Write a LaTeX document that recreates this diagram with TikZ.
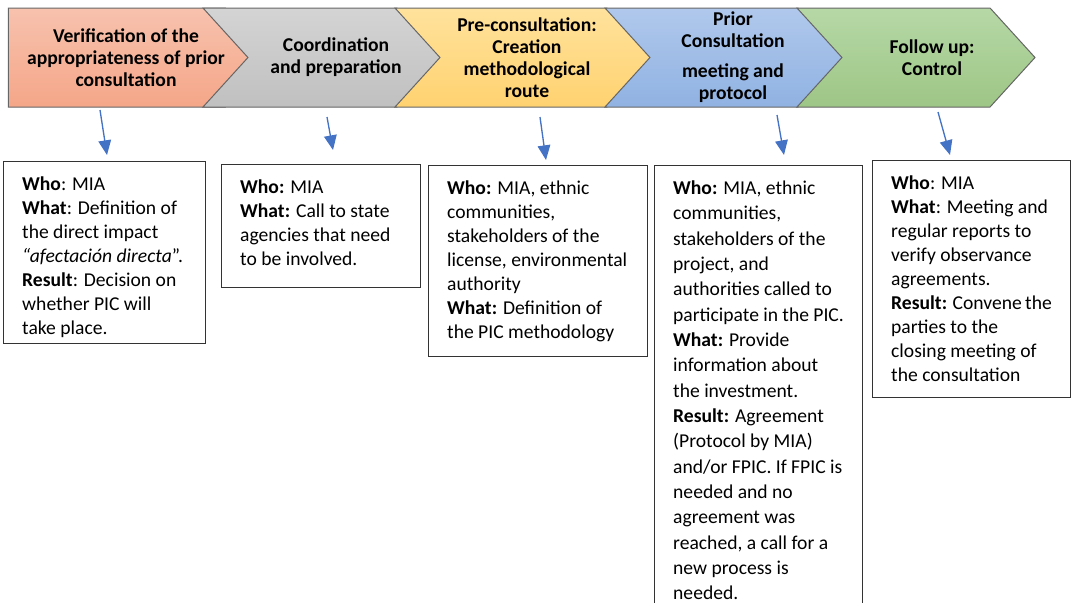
\documentclass[tikz,border=0pt]{standalone}
\usepackage{fontspec}
\setmainfont{Carlito}
\usetikzlibrary{arrows.meta,shapes.symbols}
\definecolor{SalmonTop}{RGB}{247,194,174}
\definecolor{SalmonBot}{RGB}{245,166,136}
\definecolor{GreyTop}{RGB}{212,212,212}
\definecolor{GreyBot}{RGB}{192,192,192}
\definecolor{SandTop}{RGB}{255,226,156}
\definecolor{SandBot}{RGB}{255,210,112}
\definecolor{SkyTop}{RGB}{176,200,236}
\definecolor{SkyBot}{RGB}{144,178,226}
\definecolor{LeafTop}{RGB}{182,216,166}
\definecolor{LeafBot}{RGB}{158,198,134}
\definecolor{ArrowBlue}{RGB}{68,114,196}
\tikzset{
  stage/.style={signal,signal to=east,signal pointer angle=95.5,
    draw=black!60,line width=0.75pt,minimum height=74.25pt,inner sep=0pt},
  stagelabel/.style={font=\bfseries\fontsize{14.7}{16.5}\selectfont,
    align=center,inner sep=0pt},
  infobox/.style={draw=black!80,line width=0.8pt,anchor=north west,
    inner xsep=14pt,inner ysep=11.5pt,font=\fontsize{14.7}{18}\selectfont},
  pointer/.style={-{Triangle[length=11pt,width=9.5pt]},line width=1pt,ArrowBlue}
}
\newcommand{\boxbody}[3]{\parbox[t][#2][t]{#1}{#3}}

\begin{document}
\begin{tikzpicture}[x=0.75pt,y=-0.75pt]
  \useasboundingbox (0,0) rectangle (1072,603);
  % stages
  \node[stage,top color=SalmonTop,bottom color=SalmonBot,minimum width=196.5pt] (verif) at (117,57.5) {};
  \node[stage,signal from=west,top color=GreyTop,bottom color=GreyBot,minimum width=179.25pt] (coord) at (322.5,57.5) {};
  \node[stage,signal from=west,top color=SandTop,bottom color=SandBot,minimum width=192.75pt] (precons) at (523.5,57.5) {};
  \node[stage,signal from=west,top color=SkyTop,bottom color=SkyBot,minimum width=178.5pt] (meeting) at (724,57.5) {};
  \node[stage,signal from=west,top color=LeafTop,bottom color=LeafBot,minimum width=178.5pt] (follow) at (916,57.5) {};
  \node[stagelabel] (verif-t) at (126,57.5) {Verification of the\\appropriateness of prior\\consultation};
  \node[stagelabel] (coord-t) at (336,57.5) {Coordination\\and preparation};
  \node[stagelabel] (precons-t) at (527,57.5) {Pre-consultation:\\Creation\\methodological\\route};
  \node[stagelabel] (meeting-t) at (733,57.5) {Prior\\Consultation\\[6pt]meeting and\\protocol};
  \node[stagelabel] (follow-t) at (932,57.5) {Follow up:\\Control};
  % who / what boxes
  \node[infobox] (who1) at (3,161) {\boxbody{123.5pt}{113.5pt}{%
    \textbf{Who}: MIA\\
    \textbf{What}: Definition of\\
    the direct impact\\
    \textit{“afectación directa}”.\\
    \textbf{Result}: Decision on\\
    whether PIC will\\
    take place.}};
  \node[infobox] (who2) at (221,164) {\boxbody{121.25pt}{69.25pt}{%
    \textbf{Who:} MIA\\
    \textbf{What:} Call to state\\
    agencies that need\\
    to be involved.}};
  \node[infobox] (who3) at (428,165) {\boxbody{136.25pt}{120.25pt}{%
    \textbf{Who:} MIA, ethnic\\
    communities,\\
    stakeholders of the\\
    license, environmental\\
    authority\\
    \textbf{What:} Definition of\\
    the PIC methodology}};
  \node[infobox,font=\fontsize{14.7}{19}\selectfont] (who4) at (654,165) {\boxbody{128pt}{314.5pt}{%
    \textbf{Who:} MIA, ethnic\\
    communities,\\
    stakeholders of the\\
    project, and\\
    authorities called to\\
    participate in the PIC.\\
    \textbf{What:} Provide\\
    information about\\
    the investment.\\
    \textbf{Result:} Agreement\\
    (Protocol by MIA)\\
    and/or FPIC. If FPIC is\\
    needed and no\\
    agreement was\\
    reached, a call for a\\
    new process is\\
    needed.}};
  \node[infobox] (who5) at (872,160) {\boxbody{120.5pt}{154.75pt}{%
    \textbf{Who}: MIA\\
    \textbf{What}: Meeting and\\
    regular reports to\\
    verify observance\\
    agreements.\\
    \textbf{Result:} Convene the\\
    parties to the\\
    closing meeting of\\
    the consultation}};
  % pointers
  \coordinate (verif-out) at (100,110);
  \coordinate (who1-in) at (107,155);
  \coordinate (coord-out) at (327,117);
  \coordinate (who2-in) at (333,150);
  \coordinate (precons-out) at (540,117);
  \coordinate (who3-in) at (546,160);
  \coordinate (meeting-out) at (777,115);
  \coordinate (who4-in) at (784,155);
  \coordinate (follow-out) at (938,112);
  \coordinate (who5-in) at (950,155);
  \draw[pointer] (verif-out) -- (who1-in);
  \draw[pointer] (coord-out) -- (who2-in);
  \draw[pointer] (precons-out) -- (who3-in);
  \draw[pointer] (meeting-out) -- (who4-in);
  \draw[pointer] (follow-out) -- (who5-in);
\end{tikzpicture}
\end{document}
